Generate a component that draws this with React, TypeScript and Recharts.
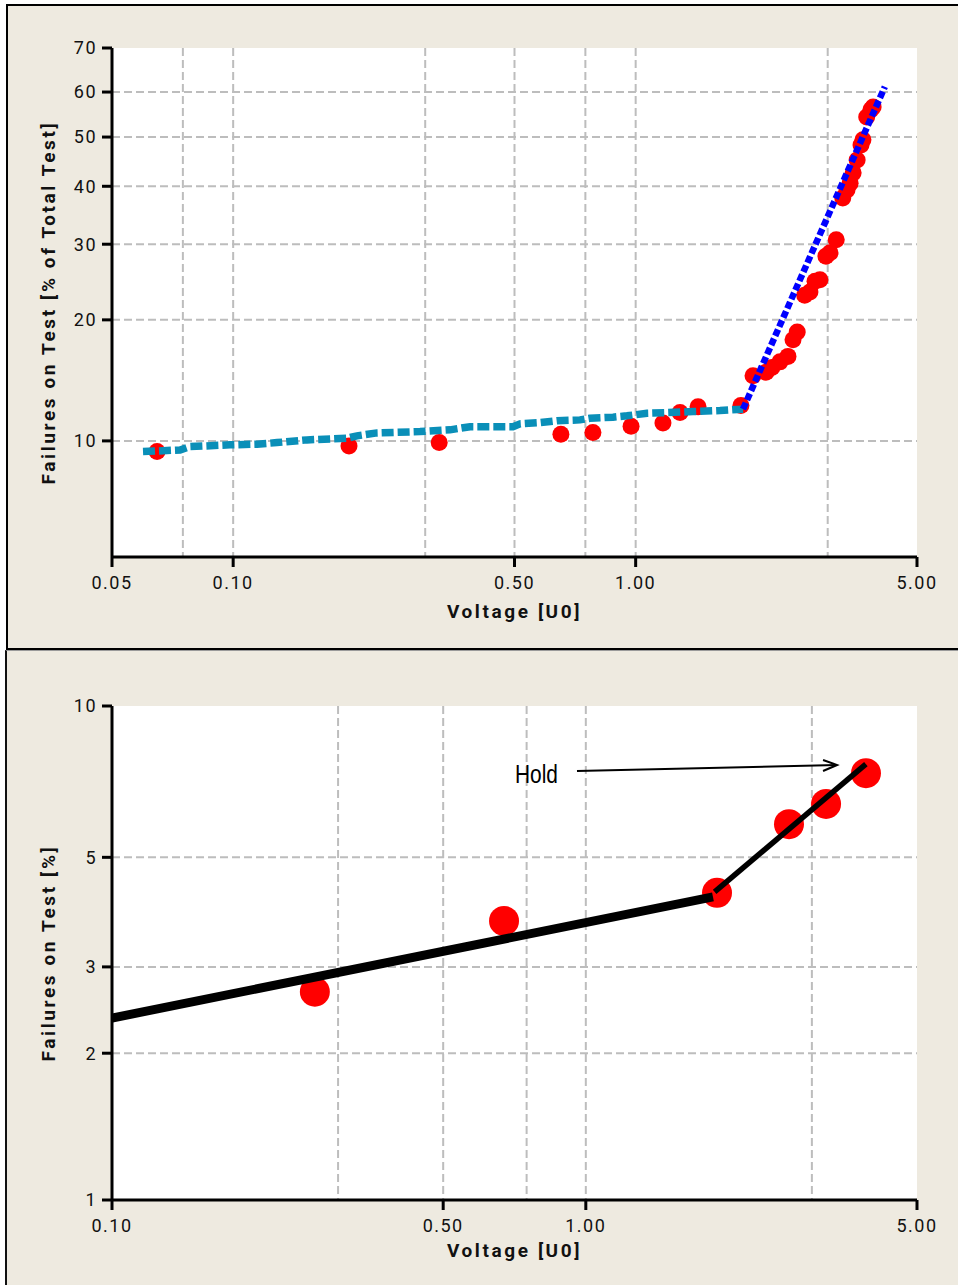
import React from 'react';
import {
  ComposedChart,
  Line,
  Scatter,
  XAxis,
  YAxis,
  CartesianGrid,
  ReferenceLine,
} from 'recharts';

// ---------- Upper panel: failures on test vs. test voltage (all tests) ----------
const testVoltage = [
  0.0647, 0.194, 0.325, 0.652, 0.783, 0.974, 1.169, 1.289, 1.429, 1.826, 1.957, 2.108,
  2.18, 2.283, 2.39, 2.46, 2.52, 2.63, 2.71, 2.79, 2.87, 2.97, 3.04, 3.15, 3.27, 3.35,
  3.41, 3.47, 3.55, 3.63, 3.67, 3.75, 3.84, 3.89,
];
const testFailures = [
  9.4, 9.7, 9.9, 10.4, 10.5, 10.9, 11.1, 11.8, 12.2, 12.3, 14.6, 14.9, 15.3, 15.8, 16.3,
  17.9, 18.7, 22.9, 23.3, 24.7, 24.9, 28.2, 28.7, 30.7, 37.8, 39.3, 40.6, 42.6, 45.2, 48.3,
  49.4, 54.4, 56.0, 56.6,
];

// low-voltage fit (teal)
const lowFitVoltage = [
  0.0597, 0.0738, 0.0781, 0.0982, 0.1146, 0.1285, 0.1525, 0.1918, 0.2031, 0.2277, 0.2913,
  0.3457, 0.3877, 0.4958, 0.516, 0.5785, 0.6377, 0.7273, 0.77, 0.8783, 0.9514, 1.067,
  1.196, 1.388, 1.62, 1.848,
];
const lowFitFailures = [
  9.39, 9.48, 9.67, 9.77, 9.81, 9.9, 10.06, 10.16, 10.3, 10.48, 10.56, 10.67, 10.87, 10.87,
  11.05, 11.13, 11.26, 11.31, 11.42, 11.49, 11.58, 11.76, 11.8, 11.87, 11.94, 12.04,
];

// high-voltage fit (blue)
const highFitVoltage = [1.848, 4.16];
const highFitFailures = [12.04, 61.2];

const topTicksX = [0.05, 0.1, 0.5, 1, 5];
const topTicksY = [10, 20, 30, 40, 50, 60, 70];
const topGridX = [0.075, 0.1, 0.3, 0.5, 0.75, 1, 3];
const topGridY = [10, 20, 30, 40, 50, 60];
const topDomainX = [0.05, 5];
const topDomainY = [5, 70];

// ---------- Lower panel: failures on test [%] ----------
const holdVoltage = [0.268, 0.672, 1.892, 2.684, 3.214, 3.902];
const holdFailures = [2.67, 3.72, 4.24, 5.83, 6.4, 7.37];

const holdFitLowVoltage = [0.1, 1.855];
const holdFitLowFailures = [2.36, 4.16];
const holdFitHighVoltage = [1.87, 3.9];
const holdFitHighFailures = [4.26, 7.68];

// "Hold" annotation arrow (start, end)
const holdArrowVoltage = [0.958, 3.39];
const holdArrowFailures = [7.44, 7.65];

const bottomTicksX = [0.1, 0.5, 1, 5];
const bottomTicksY = [1, 2, 3, 5, 10];
const bottomGridX = [0.3, 0.5, 0.75, 1, 3];
const bottomGridY = [2, 3, 5];
const bottomDomainX = [0.1, 5];
const bottomDomainY = [1, 10];

// ---------- scale helpers: log voltage, Weibull probability ----------
const lg = (v: number) => Math.log10(v);
const weib = (pct: number) => Math.log(-Math.log(1 - pct / 100));
const unweib = (w: number) => 100 * (1 - Math.exp(-Math.exp(w)));

const rows = (xs: number[], ys: number[]) =>
  xs.map((x, i) => ({ lx: lg(x), wy: weib(ys[i]) }));

const fmtX = (v: number) => Math.pow(10, v).toFixed(2);
const fmtY = (v: number) => String(Math.round(unweib(v)));

const BG = '#EEEAE0';
const GRID = '#BDBDBD';
const gridLine = { stroke: GRID, strokeWidth: 2, strokeDasharray: '8 4' };
const tickFont = {
  fill: '#111',
  fontSize: 18,
  fontFamily: 'Roboto, "DejaVu Sans", sans-serif',
  letterSpacing: 1.5,
};
const labelStyle = {
  fill: '#111',
  fontSize: 19,
  fontWeight: 700,
  fontFamily: 'Roboto, "DejaVu Sans", sans-serif',
  letterSpacing: 2.6,
  textAnchor: 'middle' as const,
};
const axisLine = { stroke: '#000', strokeWidth: 3 };
const borderLine = { stroke: '#000', strokeWidth: 3 };
const tickLine = { stroke: '#000', strokeWidth: 3 };

const dot = (r: number) => (p: any) =>
  <circle cx={p.cx} cy={p.cy} r={r} fill="#FF0000" stroke="none" />;

const HoldArrow = (p: any) => {
  const { x1, y1, x2, y2 } = p;
  return (
    <g>
      <line x1={x1} y1={y1} x2={x2} y2={y2} stroke="#000" strokeWidth={2} />
      <polyline
        points={`${x2 - 14},${y2 - 5} ${x2},${y2} ${x2 - 14},${y2 + 6}`}
        fill="none"
        stroke="#000"
        strokeWidth={2}
      />
      <text
        x={x1 - 62}
        y={y1 + 12}
        textLength={43}
        lengthAdjust="spacingAndGlyphs"
        fontSize={25}
        fontFamily='"Liberation Sans", Arial, sans-serif'
        fill="#000"
      >
        Hold
      </text>
    </g>
  );
};

function TopChart() {
  return (
    <ComposedChart width={951} height={643} margin={{ top: 43, right: 41, bottom: 0, left: 0 }}>
      <CartesianGrid
        fill="#FFFFFF"
        fillOpacity={1}
        stroke={GRID}
        strokeWidth={2}
        strokeDasharray="8 4"
        horizontal={gridLine}
        vertical={gridLine}
        verticalValues={topGridX.map(lg)}
        horizontalValues={topGridY.map(weib)}
      />
      <XAxis
        type="number"
        dataKey="lx"
        domain={topDomainX.map(lg)}
        allowDataOverflow
        ticks={topTicksX.map(lg)}
        tickFormatter={fmtX}
        height={91}
        tickSize={10}
        tickMargin={9}
        tick={tickFont}
        axisLine={axisLine}
        tickLine={tickLine}
        label={{ value: 'Voltage [U0]', position: 'insideBottom', offset: 30, style: labelStyle }}
      />
      <XAxis
        xAxisId="top"
        orientation="top"
        type="number"
        domain={[0, 1]}
        height={0}
        tick={false}
        tickLine={false}
        axisLine={borderLine}
      />
      <YAxis
        type="number"
        domain={topDomainY.map(weib)}
        allowDataOverflow
        ticks={topTicksY.map(weib)}
        tickFormatter={fmtY}
        width={105}
        tickSize={10}
        tickMargin={5}
        tick={tickFont}
        axisLine={axisLine}
        tickLine={tickLine}
        label={{
          value: 'Failures on Test [% of Total Test]',
          angle: -90,
          position: 'insideLeft',
          offset: 41,
          style: labelStyle,
        }}
      />
      <YAxis
        yAxisId="right"
        orientation="right"
        type="number"
        domain={[0, 1]}
        width={0}
        tick={false}
        tickLine={false}
        axisLine={borderLine}
      />
      <Scatter
        data={rows(testVoltage, testFailures)}
        dataKey="wy"
        shape={dot(8.5)}
        isAnimationActive={false}
        zIndex={350}
      />
      <Line
        data={rows(lowFitVoltage, lowFitFailures)}
        dataKey="wy"
        type="linear"
        stroke="#0A8FB8"
        strokeWidth={7.5}
        strokeDasharray="12 4"
        dot={false}
        activeDot={false}
        isAnimationActive={false}
      />
      <Line
        data={rows(highFitVoltage, highFitFailures)}
        dataKey="wy"
        type="linear"
        stroke="#0000FF"
        strokeWidth={6.5}
        strokeDasharray="7 3"
        dot={false}
        activeDot={false}
        isAnimationActive={false}
      />
    </ComposedChart>
  );
}

function BottomChart() {
  const arrow = rows(holdArrowVoltage, holdArrowFailures);
  return (
    <ComposedChart width={951} height={635} margin={{ top: 56, right: 41, bottom: 0, left: 0 }}>
      <CartesianGrid
        fill="#FFFFFF"
        fillOpacity={1}
        stroke={GRID}
        strokeWidth={2}
        strokeDasharray="8 4"
        horizontal={gridLine}
        vertical={gridLine}
        verticalValues={bottomGridX.map(lg)}
        horizontalValues={bottomGridY.map(weib)}
      />
      <XAxis
        type="number"
        dataKey="lx"
        domain={bottomDomainX.map(lg)}
        allowDataOverflow
        ticks={bottomTicksX.map(lg)}
        tickFormatter={fmtX}
        height={85}
        tickSize={10}
        tickMargin={9}
        tick={tickFont}
        axisLine={axisLine}
        tickLine={tickLine}
        label={{ value: 'Voltage [U0]', position: 'insideBottom', offset: 28, style: labelStyle }}
      />
      <XAxis
        xAxisId="top"
        orientation="top"
        type="number"
        domain={[0, 1]}
        height={0}
        tick={false}
        tickLine={false}
        axisLine={borderLine}
      />
      <YAxis
        type="number"
        domain={bottomDomainY.map(weib)}
        allowDataOverflow
        ticks={bottomTicksY.map(weib)}
        tickFormatter={fmtY}
        width={105}
        tickSize={10}
        tickMargin={5}
        tick={tickFont}
        axisLine={axisLine}
        tickLine={tickLine}
        label={{
          value: 'Failures on Test [%]',
          angle: -90,
          position: 'insideLeft',
          offset: 41,
          style: labelStyle,
        }}
      />
      <YAxis
        yAxisId="right"
        orientation="right"
        type="number"
        domain={[0, 1]}
        width={0}
        tick={false}
        tickLine={false}
        axisLine={borderLine}
      />
      <Scatter
        data={rows(holdVoltage, holdFailures)}
        dataKey="wy"
        shape={dot(15)}
        isAnimationActive={false}
        zIndex={350}
      />
      <Line
        data={rows(holdFitLowVoltage, holdFitLowFailures)}
        dataKey="wy"
        type="linear"
        stroke="#000"
        strokeWidth={9}
        dot={false}
        activeDot={false}
        isAnimationActive={false}
      />
      <Line
        data={rows(holdFitHighVoltage, holdFitHighFailures)}
        dataKey="wy"
        type="linear"
        stroke="#000"
        strokeWidth={5.5}
        dot={false}
        activeDot={false}
        isAnimationActive={false}
      />
      <ReferenceLine
        segment={[
          { x: arrow[0].lx, y: arrow[0].wy },
          { x: arrow[1].lx, y: arrow[1].wy },
        ]}
        ifOverflow="visible"
        shape={HoldArrow}
      />
    </ComposedChart>
  );
}

export default function App() {
  return (
    <div style={{ position: 'absolute', left: 0, top: 0, width: 958, height: 1285, background: '#FFFFFF' }}>
      <div
        style={{
          position: 'absolute',
          left: 6,
          top: 4,
          width: 952,
          height: 646,
          boxSizing: 'border-box',
          background: BG,
          borderTop: '2px solid #000',
          borderLeft: '2px solid #000',
          borderBottom: '2px solid #000',
        }}
      />
      <div
        style={{
          position: 'absolute',
          left: 5,
          top: 650,
          width: 953,
          height: 635,
          boxSizing: 'border-box',
          background: BG,
          borderTop: '1px solid #9A9A9A',
          borderLeft: '2px solid #111',
        }}
      />
      <div style={{ position: 'absolute', left: 7, top: 5 }}>
        <TopChart />
      </div>
      <div style={{ position: 'absolute', left: 7, top: 650 }}>
        <BottomChart />
      </div>
    </div>
  );
}
